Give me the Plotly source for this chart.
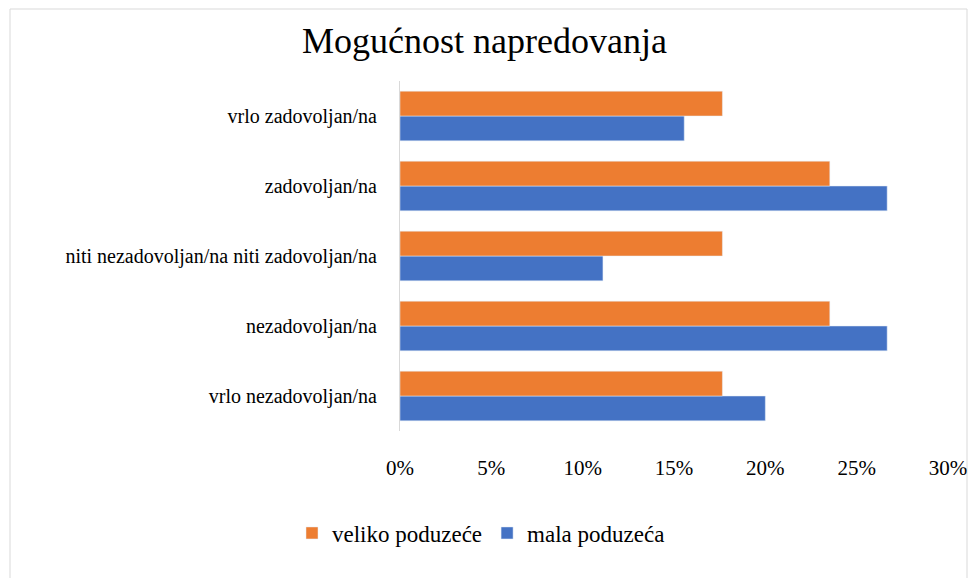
import plotly.graph_objects as go

# categories bottom -> top as drawn
categories = ["vrlo nezadovoljan/na", "nezadovoljan/na",
              "niti nezadovoljan/na niti zadovoljan/na",
              "zadovoljan/na", "vrlo zadovoljan/na"]
veliko = [0.1765, 0.2353, 0.1765, 0.2353, 0.1765]
mala = [0.2000, 0.2667, 0.1111, 0.2667, 0.1556]

FONT = "Liberation Serif, Times New Roman, serif"

fig = go.Figure()
fig.add_trace(go.Bar(y=categories, x=mala, orientation="h",
                     name="mala poduzeća", marker_color="#4472C4"))
fig.add_trace(go.Bar(y=categories, x=veliko, orientation="h",
                     name="veliko poduzeće", marker_color="#ED7D31"))

L, R, T, B = 400, 21, 81, 147
W, H = 969, 578
pw, ph = W - L - R, H - T - B

fig.update_layout(
    width=W, height=H,
    margin=dict(l=L, r=R, t=T, b=B, autoexpand=False),
    paper_bgcolor="white", plot_bgcolor="white",
    font=dict(family=FONT, color="#000000"),
    title=dict(text="Mogućnost napredovanja", x=0.5, xref="container",
               xanchor="center", y=1 - 40 / H, yanchor="middle",
               font=dict(size=36, family=FONT, color="#000000")),
    barmode="group", bargap=0.29, bargroupgap=0,
    legend=dict(orientation="h", traceorder="reversed",
                x=(481 - L) / pw, xanchor="center",
                y=-(533 - (T + ph)) / ph, yanchor="middle",
                font=dict(size=23, family=FONT)),
    xaxis=dict(range=[0, 0.30], dtick=0.05, tickformat=".0%",
               showgrid=False, zeroline=False, showline=False,
               automargin=False,
               ticks="outside", ticklen=18, tickcolor="rgba(0,0,0,0)",
               tickfont=dict(size=21, family=FONT)),
    yaxis=dict(showgrid=False, zeroline=False, showline=True,
               automargin=False,
               linecolor="#d9d9d9", linewidth=1,
               ticks="outside", ticklen=18, tickcolor="rgba(0,0,0,0)",
               tickfont=dict(size=20, family=FONT)),
    shapes=[dict(type="rect", xref="paper", yref="paper",
                 x0=(10 - L) / pw, x1=(967 - L) / pw,
                 y0=-(H + 5 - (T + ph)) / ph, y1=(T + ph - 9) / ph,
                 line=dict(color="#d9d9d9", width=1),
                 fillcolor="rgba(0,0,0,0)", layer="below")],
)

fig.write_html("out.html", config={"displayModeBar": False},
               post_script="document.body.style.margin='0';")
